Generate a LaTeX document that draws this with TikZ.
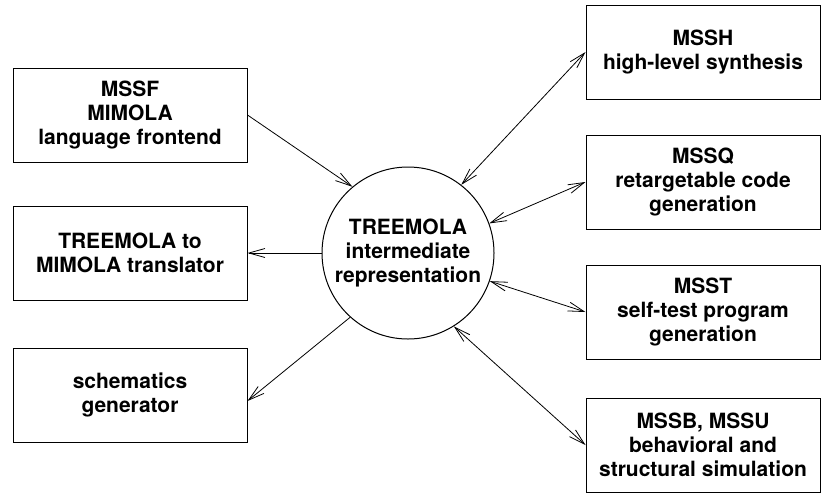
\documentclass[tikz,border=0pt]{standalone}
\usepackage{fontspec}
\setmainfont{TeX Gyre Heros}
\usetikzlibrary{arrows.meta}
\newcommand{\bw}{234} % width of a tool box
\newcommand{\bh}{94}  % height of a tool box
\newcommand{\lx}{130} % left column
\newcommand{\rx}{703} % right column
\begin{document}
\begin{tikzpicture}[
      x=1pt, y=-1pt, % pixel grid of the sketch
      box/.style={draw, line width=1pt, minimum width=\bw pt, minimum height=\bh pt,
                  inner sep=0pt, align=center, font=\bfseries\fontsize{21}{24}\selectfont},
      hub/.style={draw, circle, line width=1pt, minimum size=172pt, inner sep=0pt,
                  align=center, font=\bfseries\fontsize{21}{24}\selectfont},
      flow/.style={line width=0.8pt, -{Straight Barb[length=16pt,width=9pt]}},
      both/.style={line width=0.8pt, {Straight Barb[length=16pt,width=9pt]}-{Straight Barb[length=16pt,width=9pt]}}
    ]
    \useasboundingbox (0,0) rectangle (821,493);
    % the intermediate form in the middle
    \node[hub] (treemola) at (408,253) {TREEMOLA\\intermediate\\representation};
    % tools on the left
    \node[box] (mssf)   at (\lx,115) {MSSF\\MIMOLA\\language frontend};
    \node[box] (transl) at (\lx,253) {TREEMOLA to\\MIMOLA translator};
    \node[box] (schem)  at (\lx,395) {schematics\\generator};
    % tools on the right
    \node[box] (mssh) at (\rx,52)  {MSSH\\high-level synthesis};
    \node[box] (mssq) at (\rx,182) {MSSQ\\retargetable code\\generation};
    \node[box] (msst) at (\rx,312) {MSST\\self-test program\\generation};
    \node[box] (mssb) at (\rx,445) {MSSB, MSSU\\behavioral and\\structural simulation};
    % one-way connections
    \draw[flow] (mssf.east) -- (treemola.130);
    \draw[flow] (treemola.180) -- (transl.east);
    \draw[flow] (treemola.228) -- ([yshift=-6pt]schem.east);
    % two-way connections
    \draw[both] (treemola.52) -- (mssh.west);
    \draw[both] (treemola.20) -- (mssq.west);
    \draw[both] (treemola.-19) -- (msst.west);
    \draw[both] (treemola.-58) -- (mssb.west);
\end{tikzpicture}
\end{document}
